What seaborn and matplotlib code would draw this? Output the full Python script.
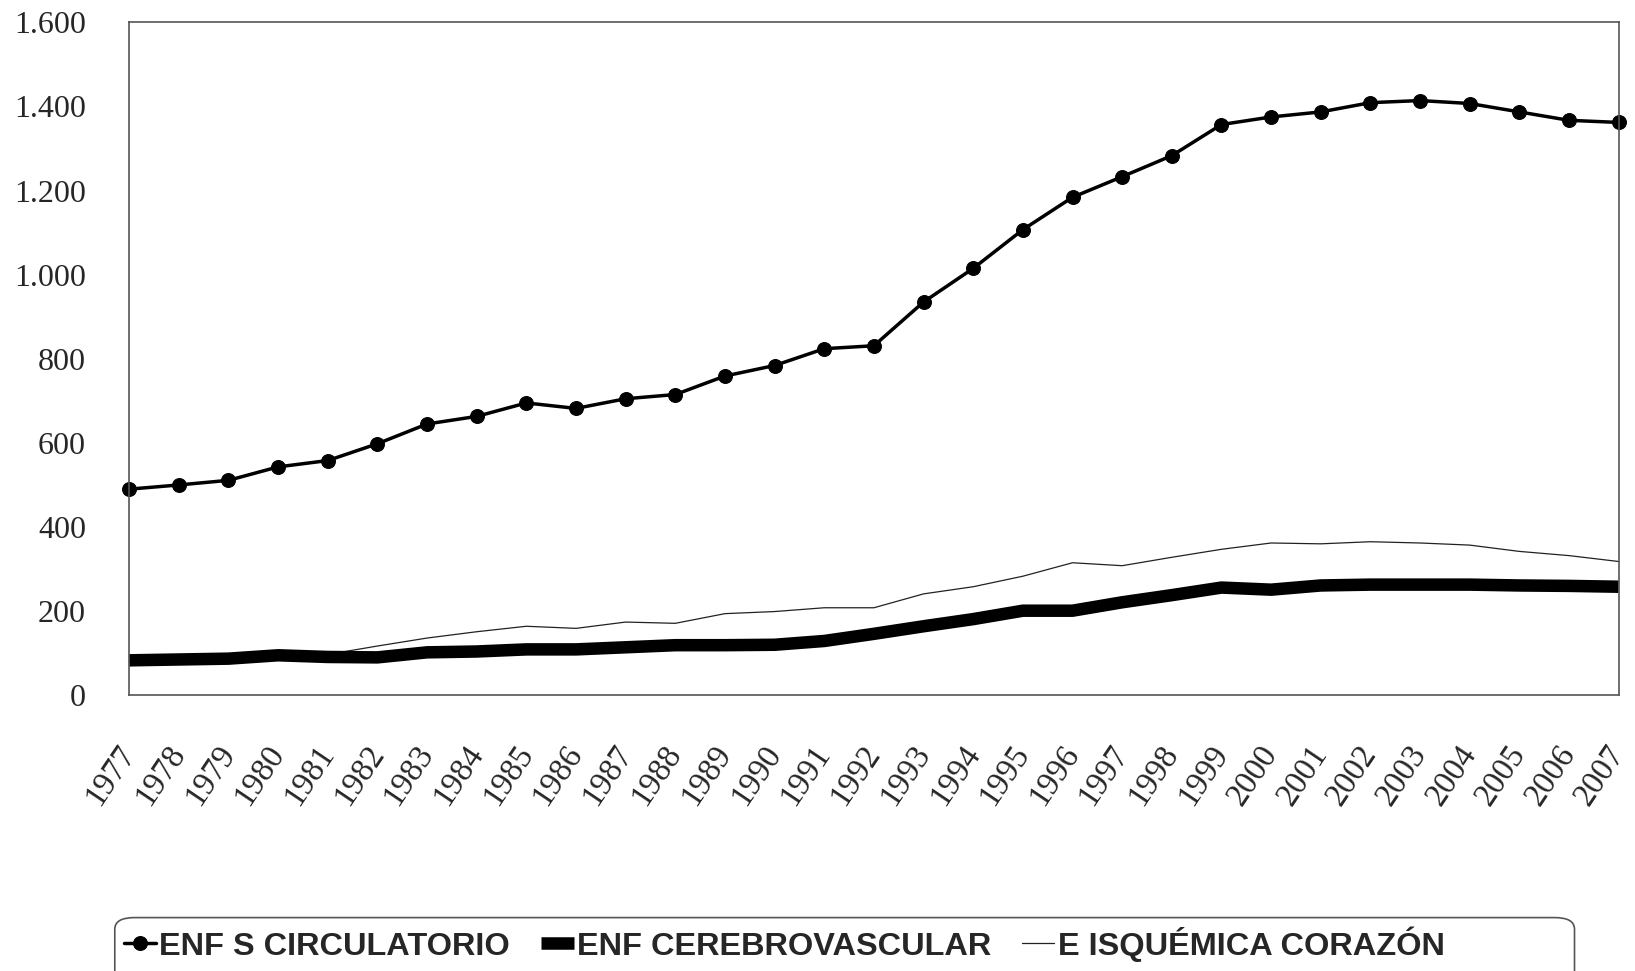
import matplotlib
matplotlib.use("Agg")
import matplotlib.pyplot as plt
import matplotlib.transforms as mtransforms
from matplotlib.patches import FancyBboxPatch
import seaborn as sns
import pandas as pd

sns.set_style("white")
plt.rcParams['font.family'] = ['Liberation Serif', 'DejaVu Serif']

# ── Datos ──
anios = list(range(1977, 2008))
circulatorio = [490, 500, 511, 543, 558, 598, 645, 663, 695, 682,
                705, 715, 759, 784, 824, 831, 935, 1015, 1107, 1184,
                1233, 1283, 1357, 1375, 1387, 1409, 1414, 1407, 1387, 1367,
                1362]
cerebrovascular = [83, 85, 87, 95, 91, 90, 102, 104, 109, 109,
                   114, 119, 119, 120, 129, 146, 164, 181, 201, 201,
                   221, 238, 256, 251, 261, 263, 263, 263, 261, 260,
                   258]
isquemica = [80, 85, 88, 93, 97, 117, 136, 151, 164, 159,
             174, 171, 194, 199, 208, 208, 241, 258, 283, 315,
             308, 328, 347, 362, 360, 365, 362, 357, 342, 332,
             318]
nombres = ['ENF S CIRCULATORIO', 'ENF CEREBROVASCULAR', 'E ISQUÉMICA CORAZÓN']
y_ticks = [0, 200, 400, 600, 800, 1000, 1200, 1400, 1600]
y_labels = ['0', '200', '400', '600', '800', '1.000', '1.200', '1.400', '1.600']

df = pd.DataFrame({'anio': anios, nombres[0]: circulatorio,
                   nombres[1]: cerebrovascular, nombres[2]: isquemica})

fig = plt.figure(figsize=(16.35, 9.71), dpi=100)
ax = fig.add_axes([0.079, 0.284, 0.911, 0.693])

sns.lineplot(data=df, x='anio', y=nombres[2], color='#222222', linewidth=0.9,
             ax=ax, label=nombres[2], clip_on=False)
sns.lineplot(data=df, x='anio', y=nombres[1], color='black', linewidth=9,
             ax=ax, label=nombres[1], clip_on=False, solid_capstyle='butt')
sns.lineplot(data=df, x='anio', y=nombres[0], color='black', linewidth=2.5,
             marker='o', markersize=10, markeredgecolor='black',
             ax=ax, label=nombres[0], clip_on=False)

ax.set_xlim(1977, 2007)
ax.set_ylim(0, 1600)
ax.set_xticks(anios)
ax.set_xticklabels([str(a) for a in anios], rotation=56, ha='right',
                   va='center', rotation_mode='anchor', fontsize=23.5)
desplaz = mtransforms.ScaledTranslation(-8 / 100, 0, fig.dpi_scale_trans)
for lbl in ax.get_xticklabels():
    lbl.set_transform(lbl.get_transform() + desplaz)
ax.set_yticks(y_ticks)
ax.set_yticklabels(y_labels, fontsize=23)
ax.tick_params(axis='both', length=0)
ax.tick_params(axis='x', pad=38)
ax.tick_params(axis='y', pad=31)
ax.set_xlabel('')
ax.set_ylabel('')
for s in ax.spines.values():
    s.set_color('#555555')
    s.set_linewidth(1.2)

# ── Leyenda ──
handles, labels = ax.get_legend_handles_labels()
orden = [2, 1, 0]
leg = fig.legend([handles[i] for i in orden], [labels[i] for i in orden],
                 loc='center left', bbox_to_anchor=(0.0657, 0.028), ncol=3,
                 frameon=False, handlelength=1.0, borderpad=0,
                 handletextpad=0.1, columnspacing=0.95,
                 prop={'family': ['Liberation Sans Narrow', 'Liberation Sans'],
                       'weight': 'bold', 'size': 23.4})
ax.get_legend().remove()
marco = FancyBboxPatch((0.0702, -0.03), 0.8928, 0.085,
                       boxstyle='round,pad=0,rounding_size=0.012',
                       transform=fig.transFigure, facecolor='none',
                       edgecolor='#555555', linewidth=1.2)
fig.patches.append(marco)

fig.savefig('out.png', dpi=100)
